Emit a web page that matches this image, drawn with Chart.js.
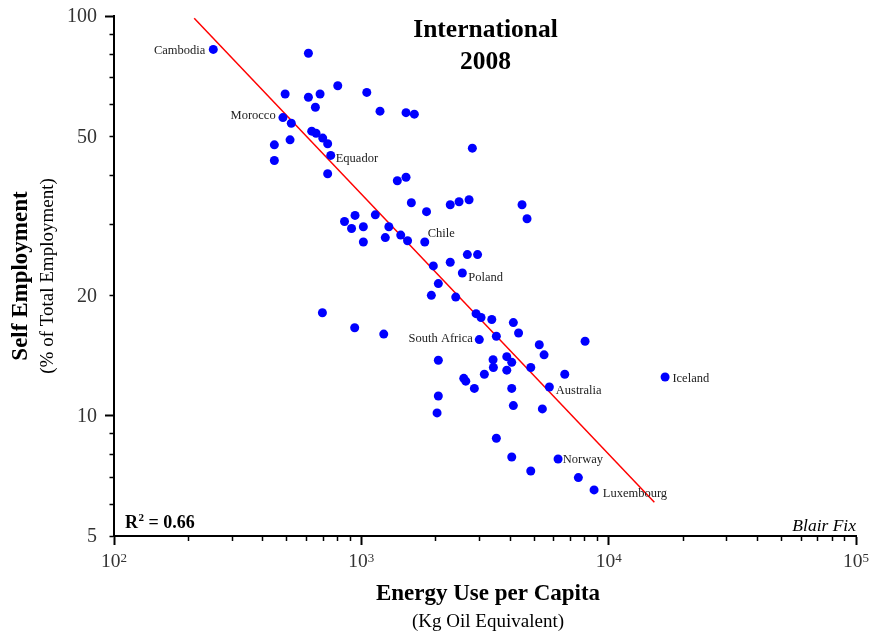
<!DOCTYPE html>
<html>
<head>
<meta charset="utf-8">
<script src="https://cdn.jsdelivr.net/npm/chart.js@4.4.1/dist/chart.umd.min.js"></script>
<style>
  html, body { margin: 0; padding: 0; background: #ffffff; }
  #wrap { width: 870px; height: 634px; position: relative; }
</style>
</head>
<body>
<div id="wrap"><canvas id="c"></canvas></div>
<script>
// ---- Data ----
const energyUse = [
  252, 611, 803, 492, 611, 681, 1052, 652, 1190, 482,
  521, 630, 656, 698, 731, 515, 445, 445, 752, 731,
  1398, 1516, 1516, 1638, 2811, 1593, 1835, 2288, 2484, 2726,
  4464, 4677, 943, 1139, 855, 913, 1019, 1292, 1019, 1250,
  1443, 1538, 1805, 1955, 2288, 2683, 2951, 2561, 2048, 1919,
  2408, 696, 940, 1232, 2910, 3048, 3368, 4117, 4322, 3515,
  2999, 5242, 8028, 5481, 2048, 3409, 3873, 4056, 3419, 3873,
  3143, 4842, 6645, 2595, 2644, 2864, 4056, 5757, 16910, 2048,
  2024, 4117, 5394, 3515, 4056, 6244, 4842, 7542, 8730
];
const selfEmployment = [
  82.5, 80.7, 66.9, 63.8, 62.6, 63.8, 64.4, 59.1, 57.8, 55.7,
  53.9, 51.5, 50.9, 49.5, 47.9, 49.0, 47.6, 43.5, 44.8, 40.3,
  38.7, 39.5, 57.3, 56.8, 46.7, 34.1, 32.4, 33.7, 34.3, 34.7,
  33.7, 31.1, 31.7, 31.8, 30.6, 29.4, 29.7, 29.7, 27.2, 27.9,
  28.3, 27.4, 27.2, 23.7, 24.2, 25.3, 25.3, 22.75, 21.4, 20.0,
  19.8, 18.1, 16.6, 16.0, 18.0, 17.6, 17.4, 17.1, 16.1, 15.8,
  15.5, 15.05, 15.35, 14.2, 13.76, 13.8, 14.05, 13.6, 13.2, 13.0,
  12.7, 13.2, 12.7, 12.4, 12.2, 11.7, 11.7, 11.8, 12.5, 11.2,
  10.16, 10.6, 10.4, 8.78, 7.88, 7.79, 7.27, 7.0, 6.52
];
const countryLabels = [
  "Cambodia", "", "", "", "", "", "", "", "", "Morocco",
  "", "", "", "", "", "", "", "", "Equador", "",
  "", "", "", "", "", "", "", "", "", "",
  "", "", "", "", "", "", "", "", "", "",
  "", "", "Chile", "", "", "", "", "Poland", "", "",
  "", "", "", "", "", "", "", "", "", "",
  "South Africa", "", "", "", "", "", "", "", "", "",
  "", "", "", "", "", "", "", "Australia", "Iceland", "",
  "", "", "", "", "", "Norway", "", "", "Luxembourg"
];
// regression line end points
const fitX = [211, 15300];
const fitY = [98.7, 6.07];
// axis ticks
const xTickValues = [100,200,300,400,500,600,700,800,900,1000,2000,3000,4000,5000,6000,7000,8000,9000,10000,20000,30000,40000,50000,60000,70000,80000,90000,100000];
const xMajorValues = [100, 1000, 10000, 100000];
const xMajorExponents = ["2", "3", "4", "5"];
const yTickValues = [5,6,7,8,9,10,20,30,40,50,60,70,80,90,100];
const yMajorValues = [10, 100];
const yLabelValues = [5, 10, 20, 50, 100];
const rSquared = "0.66";

// ---- label placement (style) ----
const labelPlace = {
  "Cambodia":     { align: "right", dx: -8,   dy: 5 },
  "Morocco":      { align: "right", dx: -7.3, dy: 1.8 },
  "Equador":      { align: "left",  dx: 5,    dy: 6.2 },
  "Chile":        { align: "left",  dx: 3,    dy: -5 },
  "Poland":       { align: "left",  dx: 6,    dy: 7.5 },
  "South Africa": { align: "right", dx: -6.5, dy: 2.8 },
  "Australia":    { align: "left",  dx: 6.4,  dy: 7.5 },
  "Iceland":      { align: "left",  dx: 7.3,  dy: 4.7 },
  "Norway":       { align: "left",  dx: 4.7,  dy: 4.3 },
  "Luxembourg":   { align: "left",  dx: 8.7,  dy: 6.7 }
};

const SERIF = '"Liberation Serif", "Times New Roman", serif';

const points = energyUse.map((x, i) => ({ x: x, y: selfEmployment[i] }));
const fitLine = fitX.map((x, i) => ({ x: x, y: fitY[i] }));

const overlay = {
  id: 'overlay',
  afterDraw(chart) {
    const ctx = chart.ctx;
    const xs = chart.scales.x, ys = chart.scales.y;
    const area = chart.chartArea;
    ctx.save();

    // point labels
    ctx.fillStyle = '#222';
    ctx.font = '12.5px ' + SERIF;
    ctx.textBaseline = 'alphabetic';
    countryLabels.forEach((name, i) => {
      if (!name) return;
      const p = labelPlace[name] || { align: 'left', dx: 6, dy: 4 };
      const px = xs.getPixelForValue(energyUse[i]);
      const py = ys.getPixelForValue(selfEmployment[i]);
      ctx.textAlign = p.align;
      ctx.fillText(name, px + p.dx, py + p.dy);
    });

    // y tick labels
    ctx.fillStyle = '#333';
    ctx.font = '20px ' + SERIF;
    ctx.textAlign = 'right';
    ctx.textBaseline = 'middle';
    yLabelValues.forEach(v => {
      ctx.fillText(String(v), area.left - 17, ys.getPixelForValue(v) + 1);
    });

    // x tick labels with superscripts
    ctx.textBaseline = 'alphabetic';
    xMajorValues.forEach((v, i) => {
      const px = xs.getPixelForValue(v);
      ctx.font = '19.5px ' + SERIF;
      const w1 = ctx.measureText('10').width;
      ctx.font = '13px ' + SERIF;
      const w2 = ctx.measureText(xMajorExponents[i]).width;
      const start = px - (w1 + w2) / 2;
      ctx.textAlign = 'left';
      ctx.font = '19.5px ' + SERIF;
      ctx.fillText('10', start, area.bottom + 31);
      ctx.font = '13px ' + SERIF;
      ctx.fillText(xMajorExponents[i], start + w1, area.bottom + 26);
    });

    // title
    ctx.fillStyle = '#000';
    ctx.textAlign = 'center';
    ctx.font = 'bold 25.5px ' + SERIF;
    ctx.fillText('International', 485.5, 37.3);
    ctx.fillText('2008', 485.5, 69);

    // x axis title
    ctx.font = 'bold 23px ' + SERIF;
    ctx.fillText('Energy Use per Capita', 488, 600);
    ctx.font = '19px ' + SERIF;
    ctx.fillText('(Kg Oil Equivalent)', 488, 627);

    // y axis title (rotated)
    ctx.save();
    ctx.translate(27, 276);
    ctx.rotate(-Math.PI / 2);
    ctx.font = 'bold 23px ' + SERIF;
    ctx.fillText('Self Employment', 0, 0);
    ctx.restore();
    ctx.save();
    ctx.translate(53, 276);
    ctx.rotate(-Math.PI / 2);
    ctx.font = '19px ' + SERIF;
    ctx.fillText('(% of Total Employment)', 0, 0);
    ctx.restore();

    // R^2 annotation
    ctx.textAlign = 'left';
    ctx.font = 'bold 18px ' + SERIF;
    let x0 = 125;
    ctx.fillText('R', x0, 528);
    x0 += ctx.measureText('R').width;
    ctx.font = 'bold 11px ' + SERIF;
    ctx.fillText('2', x0 + 0.5, 521);
    x0 += ctx.measureText('2').width + 0.5;
    ctx.font = 'bold 18px ' + SERIF;
    ctx.fillText(' = ' + rSquared, x0, 528);

    // credit
    ctx.textAlign = 'right';
    ctx.font = 'italic 17.5px ' + SERIF;
    ctx.fillText('Blair Fix', area.right, 531);

    ctx.restore();
  }
};

new Chart(document.getElementById('c'), {
  type: 'scatter',
  data: {
    datasets: [
      {
        label: 'Countries',
        data: points,
        pointRadius: 4.5,
        pointHoverRadius: 4.5,
        pointBackgroundColor: '#0000ff',
        pointBorderWidth: 0,
        showLine: false
      },
      {
        label: 'Fit',
        data: fitLine,
        showLine: true,
        borderColor: '#ff0000',
        borderWidth: 1.5,
        pointRadius: 0,
        fill: false
      }
    ]
  },
  options: {
    responsive: true,
    maintainAspectRatio: false,
    animation: false,
    events: [],
    layout: { padding: { left: 105, right: 14, top: 16, bottom: 89 } },
    plugins: {
      legend: { display: false },
      tooltip: { enabled: false },
      title: { display: false }
    },
    scales: {
      x: {
        type: 'logarithmic',
        position: 'bottom',
        min: 100,
        max: 100000,
        afterBuildTicks: (scale) => {
          scale.ticks = xTickValues.map(v => ({ value: v, major: xMajorValues.includes(v) }));
        },
        ticks: { display: false },
        border: { display: true, color: '#000', width: 2 },
        grid: {
          display: true,
          drawOnChartArea: false,
          drawTicks: true,
          tickLength: 9,
          tickColor: '#000',
          tickWidth: (c) => (c.tick && xMajorValues.includes(c.tick.value)) ? 2 : 1.5,
          tickBorderDash: (c) => (c.tick && xMajorValues.includes(c.tick.value)) ? [] : [4, 30]
        }
      },
      y: {
        type: 'logarithmic',
        position: 'left',
        min: 5,
        max: 100,
        afterBuildTicks: (scale) => {
          scale.ticks = yTickValues.map(v => ({ value: v, major: yMajorValues.includes(v) }));
        },
        ticks: { display: false },
        border: { display: true, color: '#000', width: 2 },
        grid: {
          display: true,
          drawOnChartArea: false,
          drawTicks: true,
          tickLength: 9,
          tickColor: '#000',
          tickWidth: (c) => (c.tick && yMajorValues.includes(c.tick.value)) ? 2 : 1.5,
          tickBorderDash: (c) => (c.tick && yMajorValues.includes(c.tick.value)) ? [] : [0, 4.5, 30]
        }
      }
    }
  },
  plugins: [overlay]
});
</script>
</body>
</html>
